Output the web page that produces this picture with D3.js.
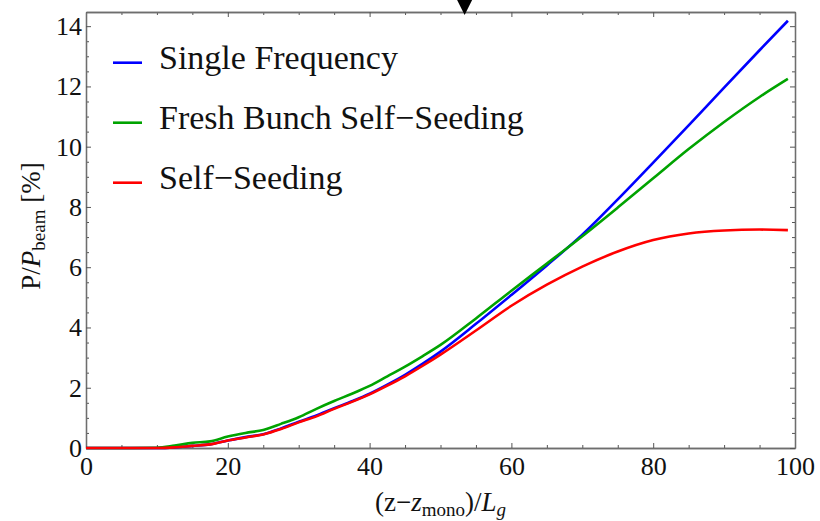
<!DOCTYPE html>
<html>
<head>
<meta charset="utf-8">
<script src="https://cdn.jsdelivr.net/npm/d3@7"></script>
<style>
  body { margin: 0; background: #fff; }
  svg { display: block; font-family: 'Liberation Serif', 'DejaVu Serif', serif; }
</style>
</head>
<body>
<svg id="chart" width="820" height="521"></svg>
<script>
// (z - z_mono)/L_g sample positions
const zValues = [0, 5, 10, 12.5, 15, 17.5, 20, 22.5, 25, 27.5, 30, 32.5, 35, 37.5, 40, 42.5, 45, 47.5, 50, 55, 60, 65, 70, 75, 80, 85, 90, 95, 99]

// P/P_beam [%] for each case
const singleFreq = [0, 0, 0, 0.02, 0.07, 0.12, 0.25, 0.36, 0.46, 0.65, 0.87, 1.08, 1.32, 1.55, 1.8, 2.1, 2.43, 2.8, 3.2, 4.12, 5.08, 6.06, 7.08, 8.25, 9.47, 10.71, 11.96, 13.2, 14.18]
const freshBunch = [0, 0, 0.01, 0.08, 0.17, 0.22, 0.38, 0.5, 0.6, 0.8, 1.02, 1.3, 1.56, 1.8, 2.06, 2.38, 2.7, 3.05, 3.42, 4.3, 5.22, 6.12, 7.03, 7.98, 8.95, 9.92, 10.82, 11.65, 12.25]
const selfSeeding = [0, 0, 0, 0.02, 0.07, 0.12, 0.25, 0.35, 0.45, 0.63, 0.85, 1.05, 1.3, 1.53, 1.78, 2.07, 2.38, 2.73, 3.1, 3.9, 4.72, 5.42, 6.02, 6.52, 6.9, 7.12, 7.22, 7.25, 7.23]

const seriesNames = ['Single Frequency', 'Fresh Bunch Self\u2212Seeding', 'Self\u2212Seeding']
const seriesValues = [singleFreq, freshBunch, selfSeeding]
const seriesColors = ['#0000ff', '#00a300', '#ff0000']

const xMajorTicks = [0, 20, 40, 60, 80, 100]
const yMajorTicks = [0, 2, 4, 6, 8, 10, 12, 14]
const xDomain = [0, 100]
const yDomain = [0, 14.47]

// position of the marker triangle on the top frame
const markerZ = [53.4]

const margin = { top: 12, right: 25, bottom: 73, left: 86 }
const width = 820 - margin.left - margin.right
const height = 521 - margin.top - margin.bottom

const svg = d3.select('#chart')
const g = svg.append('g')
  .attr('transform', 'translate(' + margin.left + ',' + margin.top + ')')

const x = d3.scaleLinear().domain(xDomain).range([0, width])
const y = d3.scaleLinear().domain(yDomain).range([height, 0])

const xMinor = d3.range(0, 101, 5).filter(v => !xMajorTicks.includes(v))
const yMinor = d3.range(0, 14.01, 0.5).filter(v => !yMajorTicks.includes(v))

function styleAxis (sel) {
  sel.select('.domain').attr('stroke', '#6e6e6e').attr('stroke-width', 1.3)
  sel.selectAll('.tick line').attr('stroke', '#555').attr('stroke-width', 1)
  sel.selectAll('.tick text')
    .attr('fill', '#111')
    .attr('font-family', "'Liberation Serif', serif")
    .attr('font-size', 26)
  sel.attr('font-family', null).attr('font-size', null)
}

// bottom
g.append('g').attr('transform', 'translate(0,' + height + ')')
  .call(d3.axisBottom(x).tickValues(xMinor).tickSize(-3).tickSizeOuter(0).tickFormat(''))
  .call(styleAxis)
g.append('g').attr('transform', 'translate(0,' + height + ')')
  .call(d3.axisBottom(x).tickValues(xMajorTicks).tickSize(-5).tickSizeOuter(0).tickPadding(9).tickFormat(d3.format('d')))
  .call(styleAxis)

// top
g.append('g')
  .call(d3.axisTop(x).tickValues(xMinor).tickSize(-3).tickSizeOuter(0).tickFormat(''))
  .call(styleAxis)
g.append('g')
  .call(d3.axisTop(x).tickValues(xMajorTicks).tickSize(-5).tickSizeOuter(0).tickFormat(''))
  .call(styleAxis)

// left
g.append('g')
  .call(d3.axisLeft(y).tickValues(yMinor).tickSize(-3).tickSizeOuter(0).tickFormat(''))
  .call(styleAxis)
g.append('g')
  .call(d3.axisLeft(y).tickValues(yMajorTicks).tickSize(-5).tickSizeOuter(0).tickPadding(4).tickFormat(d3.format('d')))
  .call(styleAxis)

// right
g.append('g').attr('transform', 'translate(' + width + ',0)')
  .call(d3.axisRight(y).tickValues(yMinor).tickSize(-3).tickSizeOuter(0).tickFormat(''))
  .call(styleAxis)
g.append('g').attr('transform', 'translate(' + width + ',0)')
  .call(d3.axisRight(y).tickValues(yMajorTicks).tickSize(-5).tickSizeOuter(0).tickFormat(''))
  .call(styleAxis)

// curves
const line = d3.line()
  .x(d => x(d[0]))
  .y(d => y(d[1]))
  .curve(d3.curveMonotoneX)

seriesValues.forEach((vals, i) => {
  g.append('path')
    .datum(zValues.map((z, j) => [z, vals[j]]))
    .attr('fill', 'none')
    .attr('stroke', seriesColors[i])
    .attr('stroke-width', 2.6)
    .attr('stroke-linejoin', 'round')
    .attr('d', line)
})

// marker triangle
g.selectAll('.marker')
  .data(markerZ)
  .enter().append('path')
  .attr('class', 'marker')
  .attr('d', d => {
    const cx = x(d)
    return 'M' + (cx - 8) + ',' + (-margin.top - 1) + 'L' + (cx + 8) + ',' + (-margin.top - 1) + 'L' + cx + ',3Z'
  })
  .attr('fill', '#000')

// legend
const legend = g.selectAll('.legend')
  .data(seriesNames)
  .enter().append('g')
  .attr('class', 'legend')
  .attr('transform', (d, i) => 'translate(27,' + (50.7 + i * 60) + ')')

legend.append('line')
  .attr('x1', 0).attr('x2', 29)
  .attr('stroke', (d, i) => seriesColors[i])
  .attr('stroke-width', 2.6)

legend.append('text')
  .attr('x', 46)
  .attr('y', 6.6)
  .attr('font-size', 34)
  .attr('fill', '#111')
  .text(d => d)

// axis titles
const xTitle = svg.append('text')
  .attr('x', margin.left + width / 2)
  .attr('y', 511)
  .attr('text-anchor', 'middle')
  .attr('font-size', 27)
  .attr('fill', '#111')
xTitle.append('tspan').text('(z\u2212')
xTitle.append('tspan').attr('font-style', 'italic').text('z')
xTitle.append('tspan').attr('font-size', 19).attr('dy', 5).text('mono')
xTitle.append('tspan').attr('dy', -5).text(')/')
xTitle.append('tspan').attr('font-style', 'italic').text('L')
xTitle.append('tspan').attr('font-style', 'italic').attr('font-size', 19).attr('dy', 5).text('g')

const yTitle = svg.append('text')
  .attr('transform', 'translate(40,' + (margin.top + height / 2 - 4) + ') rotate(-90)')
  .attr('text-anchor', 'middle')
  .attr('font-size', 27)
  .attr('fill', '#111')
yTitle.append('tspan').text('P/')
yTitle.append('tspan').attr('font-style', 'italic').text('P')
yTitle.append('tspan').attr('font-size', 19).attr('dy', 5).text('beam')
yTitle.append('tspan').attr('dy', -5).text(' [%]')
</script>
</body>
</html>
